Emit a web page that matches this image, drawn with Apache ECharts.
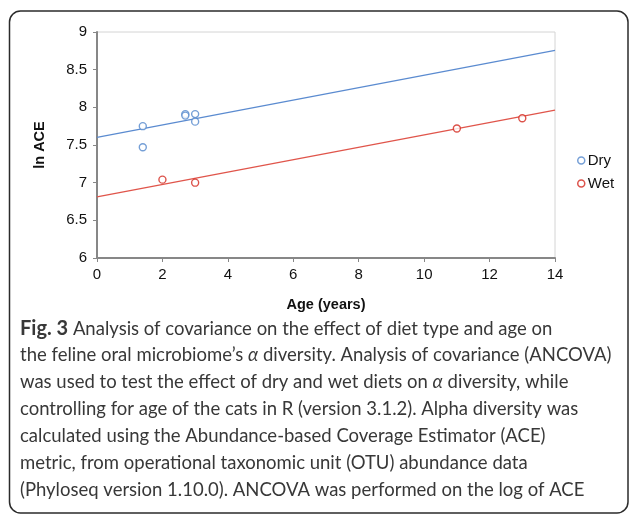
<!DOCTYPE html>
<html>
<head>
<meta charset="utf-8">
<title>ANCOVA ln ACE vs age</title>
<script src="https://cdn.jsdelivr.net/npm/echarts@6/dist/echarts.min.js"></script>
<style>
  html, body { margin: 0; padding: 0; background: #fff; }
  #main { width: 630px; height: 515px; }
</style>
</head>
<body>
<div id="main"></div>
<script>
// points: [age, ln ACE]
var dryPoints = [[1.4, 7.75], [1.4, 7.47], [2.7, 7.91], [2.7, 7.89], [3.0, 7.91], [3.0, 7.81]]
var wetPoints = [[2.0, 7.04], [3.0, 7.0], [11.0, 7.72], [13.0, 7.855]]
// fitted ANCOVA lines (end points at age 0 and 14)
var fitAges = [0, 14]
var dryFit = [7.6, 8.757]
var wetFit = [6.81, 7.963]

var captionLines = [
  [['b', 'Fig. 3'], ['n', ' Analysis of covariance on the effect of diet type and age on']],
  [['n', 'the feline oral microbiome\u2019s '], ['i', '\u03b1'], ['n', ' diversity. Analysis of covariance (ANCOVA)']],
  [['n', 'was used to test the effect of dry and wet diets on '], ['i', '\u03b1'], ['n', ' diversity, while']],
  [['n', 'controlling for age of the cats in R (version 3.1.2). Alpha diversity was']],
  [['n', 'calculated using the Abundance-based Coverage Estimator (ACE)']],
  [['n', 'metric, from operational taxonomic unit (OTU) abundance data']],
  [['n', '(Phyloseq version 1.10.0). ANCOVA was performed on the log of ACE']]
]

var chart = echarts.init(document.getElementById('main'))

function zip(xs, ys) {
  return xs.map(function (x, i) { return [x, ys[i]] })
}

var axisGray = '#878787'
var dryColor = '#5287cc'
var wetColor = '#d3271d'

// caption as rich text, one element per line
var capFont = 'Lato'
var capColor = '#383838'
var graphics = [{
  type: 'rect',
  shape: { x: 9.5, y: 11, width: 618.5, height: 502, r: 11 },
  style: { fill: 'none', stroke: '#2b2b2b', lineWidth: 1.5 },
  silent: true
}]
captionLines.forEach(function (line, i) {
  var txt = line.map(function (seg) {
    return '{' + seg[0] + '|' + seg[1] + '}'
  }).join('')
  graphics.push({
    type: 'text',
    left: 20,
    top: 319 + i * 27,
    style: {
      text: txt,
      fill: capColor,
      rich: {
        n: { fontFamily: capFont, fontSize: 18.5, color: capColor },
        b: { fontFamily: capFont, fontSize: 20, fontWeight: 'bold', color: '#222' },
        i: { fontFamily: capFont, fontSize: 18.5, fontStyle: 'italic', color: capColor }
      }
    }
  })
})

var option = {
  backgroundColor: '#fff',
  animation: false,
  textStyle: { fontFamily: 'Liberation Sans, Arial, sans-serif' },
  grid: {
    left: 97, right: 75, top: 32, bottom: 257,
    show: true, borderColor: '#d4d4d4', borderWidth: 1
  },
  legend: {
    orient: 'vertical',
    left: 572, top: 148,
    itemWidth: 7, itemHeight: 7,
    itemGap: 8,
    textStyle: { fontSize: 15, color: '#111', padding: [0, 0, 0, -2] },
    data: [
      { name: 'Dry', icon: 'circle', itemStyle: { color: '#fff', borderColor: dryColor, borderWidth: 1.5 } },
      { name: 'Wet', icon: 'circle', itemStyle: { color: '#fff', borderColor: wetColor, borderWidth: 1.5 } }
    ]
  },
  xAxis: {
    type: 'value',
    min: 0, max: 14, interval: 2,
    name: 'Age (years)',
    nameLocation: 'middle',
    nameGap: 39,
    nameTextStyle: { fontSize: 14.5, fontWeight: 'bold', color: '#111' },
    axisLine: { show: true, lineStyle: { color: axisGray, width: 2 } },
    axisTick: { show: true, length: 4, lineStyle: { color: axisGray } },
    axisLabel: { fontSize: 15, color: '#111', margin: 9 },
    splitLine: { show: false }
  },
  yAxis: {
    type: 'value',
    min: 6, max: 9, interval: 0.5,
    name: 'ln ACE',
    nameLocation: 'middle',
    nameGap: 50,
    nameRotate: 90,
    nameTextStyle: { fontSize: 14.5, fontWeight: 'bold', color: '#111' },
    axisLine: { show: true, lineStyle: { color: axisGray, width: 2 } },
    axisTick: { show: true, length: 4, lineStyle: { color: axisGray } },
    axisLabel: { fontSize: 15, color: '#111', margin: 10 },
    splitLine: { show: false }
  },
  series: [
    {
      name: 'Dry fit',
      type: 'line',
      data: zip(fitAges, dryFit),
      symbol: 'none',
      lineStyle: { color: '#5b8bd0', width: 1.3 },
      z: 2
    },
    {
      name: 'Wet fit',
      type: 'line',
      data: zip(fitAges, wetFit),
      symbol: 'none',
      lineStyle: { color: '#e0554b', width: 1.3 },
      z: 2
    },
    {
      name: 'Dry',
      type: 'scatter',
      data: dryPoints,
      symbol: 'circle',
      symbolSize: 7,
      itemStyle: { color: '#fff', borderColor: dryColor, borderWidth: 1.4 },
      z: 3
    },
    {
      name: 'Wet',
      type: 'scatter',
      data: wetPoints,
      symbol: 'circle',
      symbolSize: 7,
      itemStyle: { color: '#fff', borderColor: wetColor, borderWidth: 1.4 },
      z: 3
    }
  ],
  graphic: graphics
}

chart.setOption(option)
</script>
</body>
</html>
